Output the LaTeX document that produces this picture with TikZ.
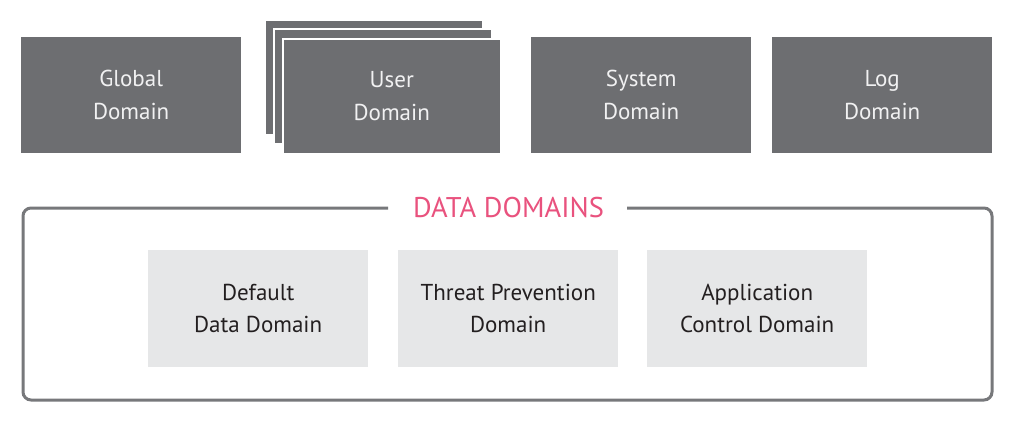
\documentclass[tikz,border=0pt]{standalone}
\usepackage{fontspec}
\setmainfont{PT Sans}
\definecolor{topgray}{HTML}{6D6E71}
\definecolor{lightbox}{HTML}{E6E7E8}
\definecolor{framegray}{HTML}{77787B}
\definecolor{pinktxt}{HTML}{E9527E}
\definecolor{toptxt}{HTML}{F1F1F2}
\definecolor{darktxt}{HTML}{231F20}
\tikzset{
  topbox/.style={fill=topgray, draw=none, minimum width=220pt, minimum height=116pt, inner sep=0pt, anchor=north west,
    text=toptxt, font=\fontsize{23}{33}\selectfont, align=center},
  layer/.style={fill=topgray, draw=white, line width=1.5pt, minimum width=218pt, minimum height=115pt, inner sep=0pt, anchor=north west},
  databox/.style={fill=lightbox, draw=none, minimum width=220pt, minimum height=117pt, inner sep=0pt, anchor=north west,
    text=darktxt, font=\fontsize{23}{32}\selectfont, align=center},
  frame/.style={draw=framegray, line width=3pt, rounded corners=8pt},
}
\begin{document}
\begin{tikzpicture}[x=1pt,y=-1pt]
\useasboundingbox[fill=white] (0,0) rectangle (1010,423);
% top row
\node[topbox, yshift=-1pt] (global) at (21,36) {Global\\Domain};
\node[layer] (user3) at (264,19) {};
\node[layer] (user2) at (273,28) {};
\node[topbox, layer, yshift=-1pt] (user) at (282,37) {User\\Domain};
\node[topbox, yshift=-1pt] (system) at (531,36) {System\\Domain};
\node[topbox, yshift=-1pt] (log) at (772,36) {Log\\Domain};
% data domains frame
\coordinate (fl) at (388,208);
\coordinate (fr) at (627,208);
\draw[frame] (fl) -- (23,208) -- (23,400) -- (992,400) -- (992,208) -- (fr);
\node[text=pinktxt, font=\fontsize{28.5}{30}\selectfont, inner sep=0pt] (title) at (508.5,208) {DATA DOMAINS};
% inner boxes
\node[databox] (default) at (148,250) {Default\\Data Domain};
\node[databox] (threat) at (398,250) {Threat Prevention\\Domain};
\node[databox] (app) at (647,250) {Application\\Control Domain};
\end{tikzpicture}
\end{document}
